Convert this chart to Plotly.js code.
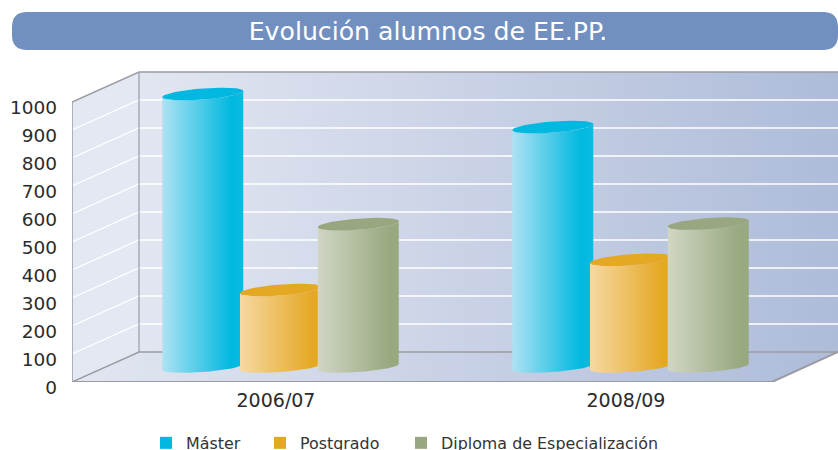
<!DOCTYPE html>
<html><head><meta charset="utf-8">
<script src="https://cdn.plot.ly/plotly-3.0.1.min.js"></script>
<style>html,body{margin:0;padding:0;background:#fff;overflow:hidden}#c{width:838px;height:450px}</style>
</head><body><div id="c"></div>
<script>
const chartTitle = 'Evolución alumnos de EE.PP.';
const categories = ['2006/07', '2008/09'];
const seriesNames = ['Máster', 'Postgrado', 'Diploma de Especialización'];
const master = [975, 857];
const postgrado = [275, 383];
const diploma = [510, 512];
const yTicks = [0, 100, 200, 300, 400, 500, 600, 700, 800, 900, 1000];
const seriesValues = [master, postgrado, diploma];

const solid = ['#00b8e0', '#e5a823', '#98a77f'];
const gradients = [
  [[0, '#aee2f3'], [0.85, '#00b9e0'], [1, '#0cbbe2']],
  [[0, '#f6d8a2'], [0.9, '#e5a823'], [1, '#e5a823']],
  [[0, '#d0d6c4'], [0.9, '#98a87f'], [1, '#98a87f']]
];
const legendIds = ['legend', 'legend2', 'legend3'];
const legendPx = [146, 260, 401];

// Scales: 350 px per category, 0.28 px per unit
const PXU = 350, PXV = 0.28;
const L = 72, T = 68, B = 382, W = 838, H = 450;
const xMin = -0.5, xMax = xMin + (W - L) / PXU, yMax = (B - T) / PXV;
const depthX = 67 / PXU, depthY = 30 / PXV;
const midX = depthX / 2, midY = depthY / 2;
const step = 77.75 / PXU, rx = 40.5 / PXU;
const topRy = 5.6 / PXV, botRy = 5.0 / PXV, skew = 3 / PXV;
const xEnd = categories.length - 0.5;

function poly(xs, ys, colorscale, extra) {
  return Object.assign({
    type: 'scatter', mode: 'lines', x: xs, y: ys, fill: 'toself', line: {width: 0},
    fillgradient: {type: 'horizontal', colorscale},
    hoverinfo: 'skip', showlegend: false
  }, extra || {});
}
function line(xs, ys, color, width) {
  return {type: 'scatter', mode: 'lines', x: xs, y: ys, line: {color, width},
    hoverinfo: 'skip', showlegend: false};
}
const traces = [];
// Walls and floor
const wallScale = [[0, '#e2e6f1'], [1, '#aebcd9']];
traces.push(poly([xMin, xMin + depthX, xMin + depthX, xMin], [0, depthY, 1000 + depthY - 0, 1000],
  [[0, '#e4e8f3'], [1, '#e4e8f3']]));
traces.push(poly([xMin + depthX, xMax, xMax, xMin + depthX], [depthY, depthY, 1000 + depthY, 1000 + depthY], wallScale));
traces.push(poly([xMin, xMin + depthX, xMax, xEnd], [0, depthY, depthY, 0], wallScale));
// Grid lines
yTicks.filter(v => v > 0 && v < 1000).forEach(v => {
  traces.push(line([xMin, xMin + depthX, xMax], [v, v + depthY, v + depthY], '#ffffff', 1.3));
});
// Frame
const grey = '#9b9ca3';
traces.push(line([xMin, xMin, xMin + depthX, xMax], [0, 1000, 1000 + depthY, 1000 + depthY], grey, 1.5));
traces.push(line([xMin + depthX, xMin + depthX], [depthY, 1000 + depthY], grey, 1.2));
traces.push(line([xMin, xMin + depthX, xMax], [0, depthY, depthY], grey, 1.5));
traces.push(line([xMin, xEnd, xMax], [0, 0, depthY], grey, 2));

// Legend-bearing markers, hidden behind their cylinders
seriesNames.forEach((name, s) => {
  traces.push({type: 'scatter', mode: 'markers', name, legend: legendIds[s],
    x: categories.map((c, i) => i + midX + (s - 1) * step),
    y: seriesValues[s].map(v => midY + v / 2),
    marker: {symbol: 'square', size: 12, color: solid[s]}, hoverinfo: 'skip'});
});
// Cylinders
const N = 36;
categories.forEach((cat, i) => {
  seriesValues.forEach((vals, s) => {
    const cx = i + midX + (s - 1) * step, v = vals[i], top = midY + v;
    const xs = [], ys = [];
    for (let k = 0; k <= N; k++) {
      const t = Math.PI * (1 - k / N);
      xs.push(cx + rx * Math.cos(t));
      ys.push(midY - botRy * Math.sin(t) + skew * Math.cos(t));
    }
    for (let k = 0; k <= N; k++) {
      const t = Math.PI * k / N;
      xs.push(cx + rx * Math.cos(t));
      ys.push(top - topRy * Math.sin(t) + skew * Math.cos(t));
    }
    traces.push(poly(xs, ys, gradients[s]));
    const ex = [], ey = [];
    for (let k = 0; k <= 2 * N; k++) {
      const t = Math.PI * k / N;
      ex.push(cx + rx * Math.cos(t));
      ey.push(top + topRy * Math.sin(t) + skew * Math.cos(t));
    }
    traces.push({type: 'scatter', mode: 'lines', x: ex, y: ey, fill: 'toself', fillcolor: solid[s],
      line: {width: 0}, hoverinfo: 'skip', showlegend: false});
  });
});

const px = x => (x - L) / (W - L);
const py = y => (B - y) / (B - T);
const bl = px(12), br = px(838), bt = py(12), bb = py(50);
const rX = 15 / (W - L), rY = 15 / (B - T);
const banner = `M ${bl + rX} ${bt} L ${br - rX} ${bt} Q ${br} ${bt} ${br} ${bt - rY} L ${br} ${bb + rY} Q ${br} ${bb} ${br - rX} ${bb} L ${bl + rX} ${bb} Q ${bl} ${bb} ${bl} ${bb + rY} L ${bl} ${bt - rY} Q ${bl} ${bt} ${bl + rX} ${bt} Z`;

const font = 'DejaVu Sans';
const layout = {
  width: W, height: H, margin: {l: L, r: 0, t: T, b: H - B, autoexpand: false},
  paper_bgcolor: '#ffffff', plot_bgcolor: 'rgba(0,0,0,0)',
  title: {text: chartTitle, font: {family: font, size: 25.2, color: '#ffffff'},
    x: 428 / W, xref: 'container', xanchor: 'center', y: 1 - 31 / H, yref: 'container', yanchor: 'middle'},
  shapes: [{type: 'path', xref: 'paper', yref: 'paper', path: banner, fillcolor: '#7190bf', line: {width: 0}, layer: 'below'}],
  xaxis: {range: [xMin, xMax], tickmode: 'array', tickvals: categories.map((c, i) => i), ticktext: categories,
    ticklabelshift: 29, ticklabelstandoff: 5, showgrid: false, zeroline: false, showline: false, ticks: '',
    tickfont: {family: font, size: 19, color: '#2b2b2b'}, fixedrange: true},
  yaxis: {range: [0, yMax], tickmode: 'array', tickvals: yTicks, ticktext: yTicks.map(String),
    ticklabelshift: 6, ticklabelstandoff: 14, showgrid: false, zeroline: false, showline: false, ticks: '',
    tickfont: {family: font, size: 18.5, color: '#2b2b2b'}, fixedrange: true},
  showlegend: true
};
legendIds.forEach((id, s) => {
  layout[id] = {orientation: 'h', x: px(legendPx[s]), xanchor: 'left', y: py(426), yanchor: 'top',
    font: {family: font, size: 15.9, color: '#333333'}, bgcolor: 'rgba(0,0,0,0)', itemclick: false, itemdoubleclick: false};
});
Plotly.newPlot('c', traces, layout, {displayModeBar: false, staticPlot: true});
</script></body></html>
